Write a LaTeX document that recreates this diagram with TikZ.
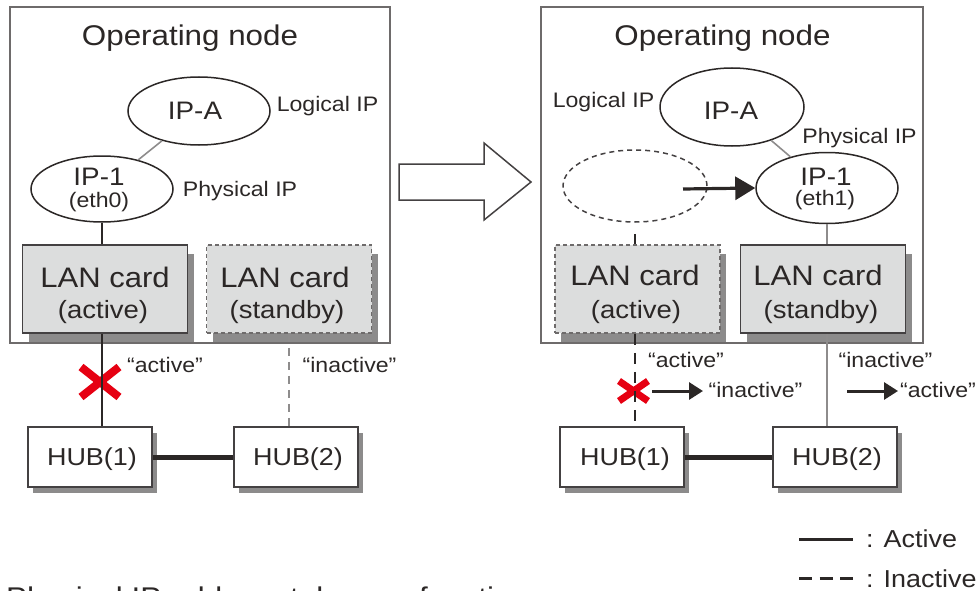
\documentclass[tikz,border=0pt]{standalone}
\usepackage{fontspec}
\setmainfont{Liberation Sans}[FakeStretch=1.1]
\usetikzlibrary{shapes.geometric,arrows.meta,shadows,calc}
\definecolor{txt}{HTML}{2B2726}
\definecolor{boxgray}{HTML}{6E6B6B}
\definecolor{edgegray}{HTML}{444142}
\definecolor{cardfill}{HTML}{DCDDDD}
\definecolor{shgray}{HTML}{8C8B8B}
\definecolor{lgray}{HTML}{8E8C8C}
\definecolor{xred}{HTML}{E60012}
\newcommand\setfs[1]{\fontsize{#1}{#1}\selectfont}
\begin{document}
\begin{tikzpicture}[x=1pt,y=-1pt,
  t/.style={text=txt, inner sep=0pt, anchor=base},
  outerbox/.style={draw=boxgray, line width=1.8pt},
  ell/.style={ellipse, draw=txt, line width=1.5pt, inner sep=0pt},
  ghostell/.style={ellipse, draw=edgegray, line width=1.5pt, dash pattern=on 5pt off 4pt, inner sep=0pt},
  card/.style={rectangle, draw=edgegray, fill=cardfill, line width=1.6pt, minimum width=165pt, minimum height=88pt, inner sep=0pt,
    general shadow={fill=shgray, shadow xshift=6pt, shadow yshift=-9pt}},
  dcard/.style={card, dash pattern=on 4pt off 3pt, draw=boxgray},
  hub/.style={rectangle, draw=edgegray, fill=white, line width=1.5pt, minimum width=124pt, minimum height=60pt, inner sep=0pt,
    general shadow={fill=shgray, shadow xshift=5pt, shadow yshift=-6pt}},
  thinlink/.style={draw=lgray, line width=1.6pt},
  blacklink/.style={draw=txt, line width=2.6pt},
  hublink/.style={draw=txt, line width=5pt},
  redx/.style={draw=xred, line width=8pt},
  smallarrow/.style={draw=txt, line width=3pt, -{Triangle[length=14pt,width=17pt]}},
]
\useasboundingbox (0,0) rectangle (979,591);

% ---------- left panel ----------
\draw[outerbox] (10,7) rectangle (390,343);
\node[t, font=\setfs{28.5}] (title1) at (190,46) {Operating node};
\node[ell, minimum width=142pt, minimum height=68pt] (ipa1) at (199,111) {};
\node[t, font=\setfs{25.3}] (ipa1t) at (195,120) {IP-A};
\node[t, font=\setfs{21}] (log1) at (327.5,112) {Logical IP};
\node[ell, minimum width=142pt, minimum height=66pt] (ip1) at (102,189) {};
\node[t, font=\setfs{25.3}] (ip1t) at (99,185) {IP-1};
\node[t, font=\setfs{21}] (eth0) at (99,207) {(eth0)};
\node[t, font=\setfs{21}] (phys1) at (240,196) {Physical IP};
\draw[thinlink] (ip1) -- (ipa1);

\node[card] (lan1) at (105,289) {};
\node[t, font=\setfs{28.2}] at (105,287) {LAN card};
\node[t, font=\setfs{25}] at (103,318) {(active)};
\node[dcard] (lan2) at (289,289) {};
\node[t, font=\setfs{28.2}] at (285,287) {LAN card};
\node[t, font=\setfs{25}] at (287,318) {(standby)};
\draw[blacklink] (ip1.south) -- (lan1.north -| ip1.south);

\node[hub] (hub1) at (90,457) {};
\node[t, font=\setfs{24.5}] at (92,465) {HUB(1)};
\node[hub] (hub2) at (296,457) {};
\node[t, font=\setfs{24.5}] at (298,465) {HUB(2)};
\draw[redx] (81,367) -- (119,397) (81,397) -- (119,367);
\draw[blacklink] (lan1.south -| ip1.south) -- (hub1.north -| ip1.south);
\draw[draw=lgray, line width=2pt, dash pattern=on 8pt off 6pt] (lan2.south) -- (hub2.north -| lan2.south);
\draw[hublink] (hub1) -- (hub2);
\node[t, font=\setfs{21}] at (165,372) {“active”};
\node[t, font=\setfs{21}] at (349.5,372) {“inactive”};

% ---------- big arrow ----------
\draw[draw=edgegray, line width=1.5pt, line join=miter] (399,164) -- (484,164) -- (484,143) -- (531,182) -- (484,220) -- (484,200) -- (399,200) -- cycle;

% ---------- right panel ----------
\draw[outerbox] (541,7) rectangle (923,343);
\node[t, font=\setfs{28.5}] (title2) at (722.5,46) {Operating node};
\node[ell, minimum width=144pt, minimum height=78pt] (ipa2) at (732,107) {};
\node[t, font=\setfs{25.3}] at (731,120) {IP-A};
\node[t, font=\setfs{21}] at (603.5,108) {Logical IP};
\node[t, font=\setfs{21}] at (859.5,143) {Physical IP};
\node[ell, minimum width=142pt, minimum height=71pt] (ip2) at (827,188) {};
\node[t, font=\setfs{25.3}] at (826,185) {IP-1};
\node[t, font=\setfs{21}] at (825,205) {(eth1)};
\draw[thinlink] (ipa2) -- (ip2);
\node[ghostell, minimum width=144pt, minimum height=72pt] (ghost) at (635,186) {};
\coordinate (mvstart) at (683,189);
\draw[draw=txt, line width=3.2pt, -{Triangle[length=20pt,width=23pt]}] (mvstart) -- (ip2.west);

\node[dcard] (lan3) at (637.5,289) {};
\node[t, font=\setfs{28.2}] at (635,285) {LAN card};
\node[t, font=\setfs{25}] at (636,318) {(active)};
\node[card] (lan4) at (823,289) {};
\node[t, font=\setfs{28.2}] at (818,285) {LAN card};
\node[t, font=\setfs{25}] at (821,318) {(standby)};
\draw[draw=txt, line width=2.6pt, dash pattern=on 12pt off 11pt, dash phase=12pt] (ghost.south) -- (lan3.north -| ghost.south);
\draw[thinlink] (ip2.south) -- (lan4.north -| ip2.south);

\node[hub] (hub3) at (622,457) {};
\node[t, font=\setfs{24.5}] at (625,465) {HUB(1)};
\node[hub] (hub4) at (835,457) {};
\node[t, font=\setfs{24.5}] at (837,465) {HUB(2)};
\draw[redx, line width=7pt] (619,381) -- (648,401) (619,401) -- (648,381);
\draw[draw=txt, line width=2.8pt, dash pattern=on 11pt off 8pt] (lan3.south -| ghost.south) -- (hub3.north -| ghost.south);
\draw[thinlink] (lan4.south -| ip2.south) -- (hub4.north -| ip2.south);
\draw[hublink] (hub3) -- (hub4);

\node[t, font=\setfs{21}] at (686,367) {“active”};
\coordinate (a1s) at (652,391);
\coordinate (a1e) at (703,391);
\draw[smallarrow] (a1s) -- (a1e);
\node[t, font=\setfs{21}] at (755.5,397) {“inactive”};
\node[t, font=\setfs{21}] at (885.5,367) {“inactive”};
\coordinate (a2s) at (847,391);
\coordinate (a2e) at (898,391);
\draw[smallarrow] (a2s) -- (a2e);
\node[t, font=\setfs{21}] at (938,397) {“active”};

% ---------- legend ----------
\coordinate (l1s) at (799,539);
\coordinate (l1e) at (853,539);
\draw[draw=txt, line width=3pt] (l1s) -- (l1e);
\node[t, anchor=base west, font=\setfs{24.5}] at (866,547) {: Active};
\coordinate (l2s) at (799,578);
\coordinate (l2e) at (853,578);
\draw[draw=txt, line width=3pt, dash pattern=on 13pt off 7.5pt] (l2s) -- (l2e);
\node[t, anchor=base west, font=\setfs{24.5}] at (866,587) {: Inactive};

% ---------- caption (cut off by the frame, as in the reference) ----------
\node[t, anchor=base west, font=\setfs{28.5}] at (6,607) {Physical IP address takeover function};
\end{tikzpicture}
\end{document}
